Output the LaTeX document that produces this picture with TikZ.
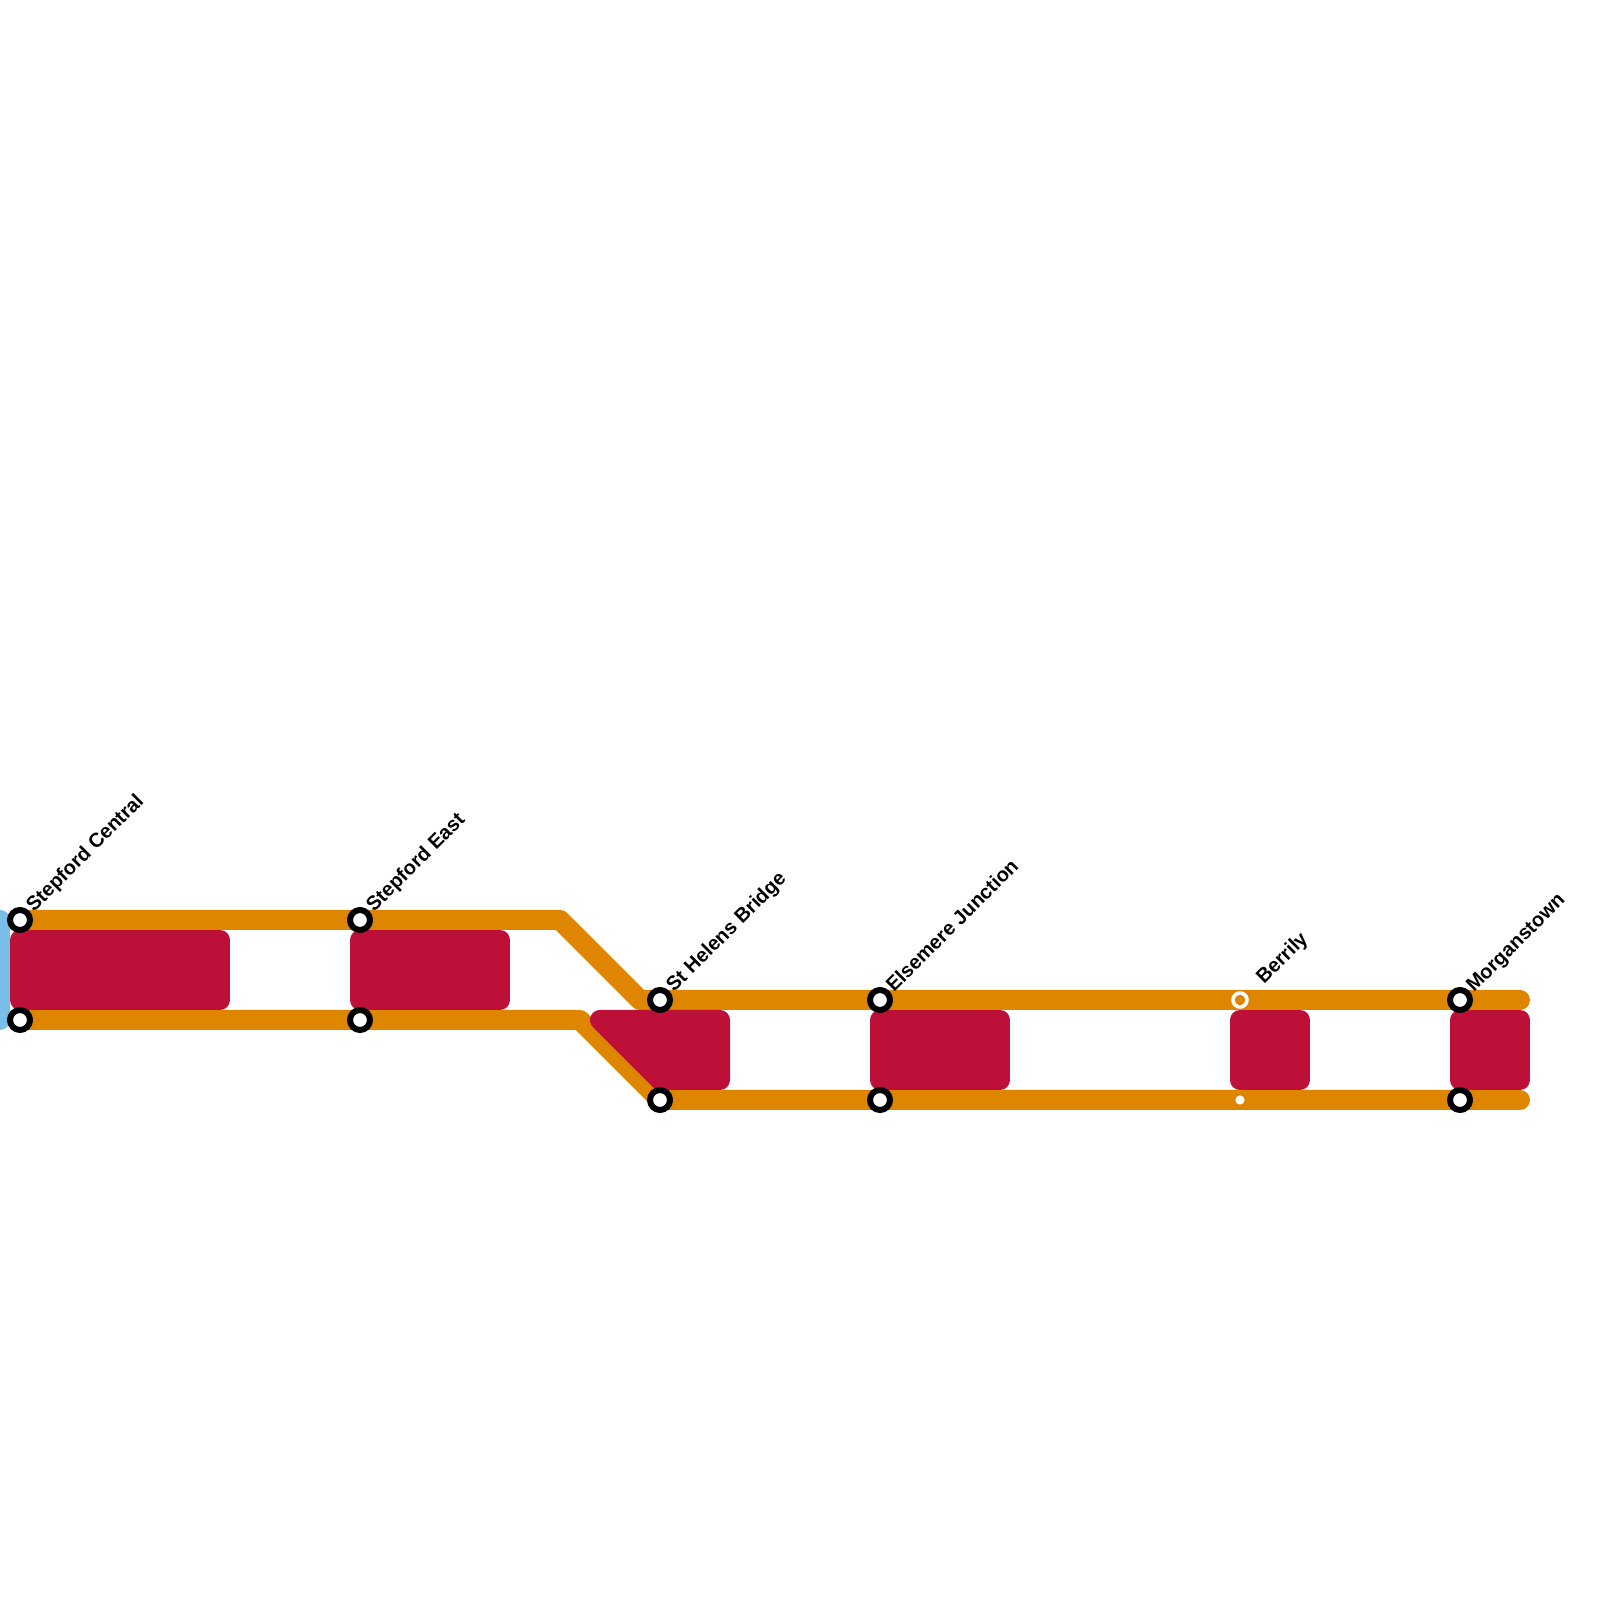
\documentclass[tikz,border=0pt]{standalone}
\usepackage{fontspec}
\setmainfont{Liberation Sans}
\tikzset{
  track/.style={draw=trackorange,line width=1cm},
  area/.style={draw=areared,fill=areared,line width=1cm},
  station/.style={circle,draw=black,fill=white,line width=0.3cm,minimum size=1cm,inner sep=0pt,outer sep=0pt},
  minor/.style={circle,draw=white,line width=0.18cm,minimum size=0.7cm,inner sep=0pt,outer sep=0pt},
  halt/.style={circle,fill=white,minimum size=0.46cm,inner sep=0pt,outer sep=0pt},
  stationlabel/.style={anchor=base west,rotate=45,inner sep=0pt,
    font=\bfseries\fontsize{28.4}{32}\selectfont}
}
\definecolor{trackorange}{HTML}{DF8600}
\definecolor{areared}{HTML}{BD1038}
\definecolor{edgeblue}{HTML}{79BDE9}
\begin{document}
\begin{tikzpicture}[
  line cap=round,
  line join=round
]
  \useasboundingbox (0,0) rectangle (80,80);

  % Upper and lower rows
  \def\ytopleft{34}
  \def\ybotleft{29}
  \def\ytopright{30}
  \def\ybotright{25}

  % Stations
  \coordinate (stepfordtop) at (1,\ytopleft);
  \coordinate (stepfordbot) at (1,\ybotleft);
  \coordinate (easttop) at (18,\ytopleft);
  \coordinate (eastbot) at (18,\ybotleft);
  \coordinate (helenstop) at (33,\ytopright);
  \coordinate (helensbot) at (33,\ybotright);
  \coordinate (elsemeretop) at (44,\ytopright);
  \coordinate (elsemerebot) at (44,\ybotright);
  \coordinate (berrilytop) at (62,\ytopright);
  \coordinate (berrilybot) at (62,\ybotright);
  \coordinate (morganstop) at (73,\ytopright);
  \coordinate (morgansbot) at (73,\ybotright);

  % Bends and line ends
  \coordinate (bendtopa) at (28,\ytopleft);
  \coordinate (bendtopb) at (32,\ytopright);
  \coordinate (bendbota) at (29,\ybotleft);
  \coordinate (endtop) at (76,\ytopright);
  \coordinate (endbot) at (76,\ybotright);
  \coordinate (edgetop) at (0,\ytopleft);
  \coordinate (edgebot) at (0,\ybotleft);

  % Blue edge
  \draw[edgeblue,line width=1cm]
    (edgetop) -- (edgebot);

  % Orange lines
  \draw[track]
    (stepfordtop) -- (easttop) -- (bendtopa)
    -- (bendtopb) -- (helenstop) -- (elsemeretop)
    -- (berrilytop) -- (morganstop) -- (endtop);

  \draw[track]
    (stepfordbot) -- (eastbot) -- (bendbota)
    -- (helensbot) -- (elsemerebot)
    -- (berrilybot) -- (morgansbot) -- (endbot);

  % Red areas
  \filldraw[area] (1,33) rectangle (11,30);
  \filldraw[area] (18,33) rectangle (25,30);
  \filldraw[area] (30,29) -- (36,29) -- (36,26) -- (33,26) -- cycle;
  \filldraw[area] (44,29) rectangle (50,26);
  \filldraw[area] (62,29) rectangle (65,26);
  \filldraw[area] (73,29) rectangle (76,26);

  % Station marks
  \foreach \name in {stepfordtop,stepfordbot,easttop,eastbot,
    helenstop,helensbot,elsemeretop,elsemerebot,morganstop,morgansbot}
    \node[station] (mark\name) at (\name) {};

  \node[minor] (markberrilytop) at (berrilytop) {};
  \node[halt] (markberrilybot) at (berrilybot) {};

  % Names
  \node[stationlabel] (labelstepford) at (1.7,34.35) {Stepford Central};
  \node[stationlabel] (labeleast) at (18.7,34.35) {Stepford East};
  \node[stationlabel] (labelhelens) at (33.7,30.35) {St Helens Bridge};
  \node[stationlabel] (labelelsemere) at (44.7,30.35) {Elsemere Junction};
  \node[stationlabel] (labelberrily) at (63.2,30.75) {Berrily};
  \node[stationlabel] (labelmorgans) at (73.7,30.35) {Morganstown};
\end{tikzpicture}
\end{document}
